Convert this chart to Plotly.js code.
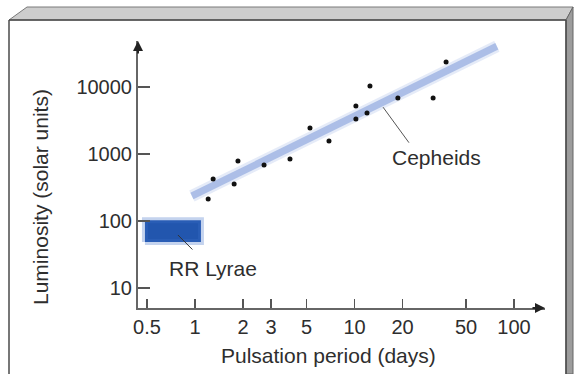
<!DOCTYPE html>
<html>
<head>
<meta charset="utf-8">
<script src="https://cdn.plot.ly/plotly-3.0.1.min.js"></script>
<style>html,body{margin:0;padding:0;background:#fff;}#chart{width:574px;height:374px;}</style>
</head>
<body>
<div id="chart"></div>
<script>
// ---- data ----
const cepheidPeriods = [1.21, 1.30, 1.76, 1.86, 2.71, 3.94, 5.26, 6.92, 10.2, 10.2, 11.98, 12.5, 18.7, 31.1, 37.5];
const cepheidLums    = [213, 424, 356, 787, 685, 841, 2443, 1563, 5200, 3327, 4093, 10350, 6855, 6855, 23600];
const fitPeriods = [0.957, 78];
const fitLums    = [236, 40600];
const rrPeriods = [0.486, 1.09, 1.09, 0.486, 0.486];
const rrLums    = [48.7, 48.7, 103, 103, 48.7];
const xTickVals = [0.5, 1, 2, 3, 5, 10, 20, 50, 100];
const xTickText = ['0.5', '1', '2', '3', '5', '10', '20', '50', '100'];
const yTickVals = [10, 100, 1000, 10000];
const yTickText = ['10', '100', '1000', '10000'];

// ---- layout helpers (pixel -> paper) ----
const L = 138, R = 545, T = 41, B = 308;
const W = 574, H = 374;
const px = x => (x - L) / (R - L);
const py = y => (B - y) / (B - T);
const font = 'Liberation Sans, Arial, Helvetica, sans-serif';
const txt = '#2e2e2e';

const traces = [
  { x: fitPeriods, y: fitLums, mode: 'lines', line: { color: 'rgba(170,190,232,0.3)', width: 12 }, hoverinfo: 'skip', showlegend: false },
  { x: fitPeriods, y: fitLums, mode: 'lines', line: { color: 'rgba(165,185,228,0.9)', width: 7 }, hoverinfo: 'skip', showlegend: false },
  { x: rrPeriods, y: rrLums, mode: 'lines', fill: 'toself', fillcolor: '#2256ae',
    line: { color: 'rgba(60,110,200,0.3)', width: 6 }, hoverinfo: 'skip', showlegend: false },
  { x: cepheidPeriods, y: cepheidLums, mode: 'markers', marker: { color: '#111', size: 5 }, showlegend: false }
];

function seg(x0, y0, x1, y1, color, width) {
  return { type: 'line', xref: 'paper', yref: 'paper', x0: px(x0), y0: py(y0), x1: px(x1), y1: py(y1),
           line: { color: color, width: width }, layer: 'above' };
}
function poly(pts, fill, line) {
  const d = pts.map((p, i) => (i ? 'L' : 'M') + px(p[0]) + ',' + py(p[1])).join(' ') + ' Z';
  return { type: 'path', xref: 'paper', yref: 'paper', path: d, fillcolor: fill, line: { color: line, width: 1 }, layer: 'below' };
}

const shapes = [
  poly([[9, 20], [27, 7], [573, 7], [566, 20]], '#cdcdcd', '#7a7a7a'),
  poly([[566, 20], [573, 7], [573, 374], [566, 374]], '#9c9c9c', '#666'),
  seg(9, 20, 9, 374, '#4a4a4a', 1.5),
  seg(9, 20, 566, 20, '#4a4a4a', 1.5),
  seg(566, 20, 566, 374, '#4a4a4a', 1.5)
];

const annotations = [
  // axis arrowheads
  { xref: 'paper', yref: 'paper', x: 0, y: 1, ax: 0, ay: 14, text: '', showarrow: true, arrowhead: 2, arrowsize: 1, arrowwidth: 2, arrowcolor: '#222' },
  { xref: 'paper', yref: 'paper', x: 1, y: 0, ax: -14, ay: 0, text: '', showarrow: true, arrowhead: 2, arrowsize: 1, arrowwidth: 2, arrowcolor: '#222' },
  // axis titles
  { xref: 'paper', yref: 'paper', x: px(328), y: py(355), text: 'Pulsation period (days)', showarrow: false,
    xanchor: 'center', yanchor: 'middle', font: { family: font, size: 21, color: txt } },
  { xref: 'paper', yref: 'paper', x: px(40), y: py(197), text: 'Luminosity (solar units)', showarrow: false, textangle: -90,
    xanchor: 'center', yanchor: 'middle', font: { family: font, size: 21, color: txt } },
  // labels
  { xref: 'paper', yref: 'paper', x: px(213), y: py(268), text: 'RR Lyrae', showarrow: false,
    xanchor: 'center', yanchor: 'middle', font: { family: font, size: 21, color: txt } },
  { xref: 'paper', yref: 'paper', x: px(436), y: py(157), text: 'Cepheids', showarrow: false,
    xanchor: 'center', yanchor: 'middle', font: { family: font, size: 21, color: txt } },
  // leader lines
  { xref: 'x', yref: 'y', x: Math.log10(0.782), y: Math.log10(61.8), ax: 16, ay: 16, text: '', showarrow: true,
    arrowhead: 0, arrowwidth: 1, arrowcolor: '#333', standoff: 0, startstandoff: 0 },
  { xref: 'x', yref: 'y', x: Math.log10(15.1), y: Math.log10(5000), ax: 27, ay: 37, text: '', showarrow: true,
    arrowhead: 0, arrowwidth: 1, arrowcolor: '#555', standoff: 0, startstandoff: 0 }
];

const layout = {
  width: W, height: H,
  margin: { l: L, r: W - R, t: T, b: H - B, pad: 0 },
  paper_bgcolor: '#fff', plot_bgcolor: 'rgba(0,0,0,0)',
  showlegend: false,
  xaxis: {
    type: 'log', range: [-0.357, 2.194], tickvals: xTickVals, ticktext: xTickText,
    showgrid: false, zeroline: false, showline: true, linecolor: '#666', linewidth: 2,
    ticks: 'inside', ticklen: 9, tickwidth: 1.5, tickcolor: '#555',
    tickfont: { family: font, size: 20, color: txt }, fixedrange: true
  },
  yaxis: {
    type: 'log', range: [0.701, 4.687], tickvals: yTickVals, ticktext: yTickText,
    showgrid: false, zeroline: false, showline: true, linecolor: '#666', linewidth: 2,
    ticks: 'inside', ticklen: 12, tickwidth: 1.5, tickcolor: '#555',
    tickfont: { family: font, size: 20, color: txt }, fixedrange: true
  },
  shapes: shapes,
  annotations: annotations
};

Plotly.newPlot('chart', traces, layout, { staticPlot: true, displayModeBar: false });
</script>
</body>
</html>
